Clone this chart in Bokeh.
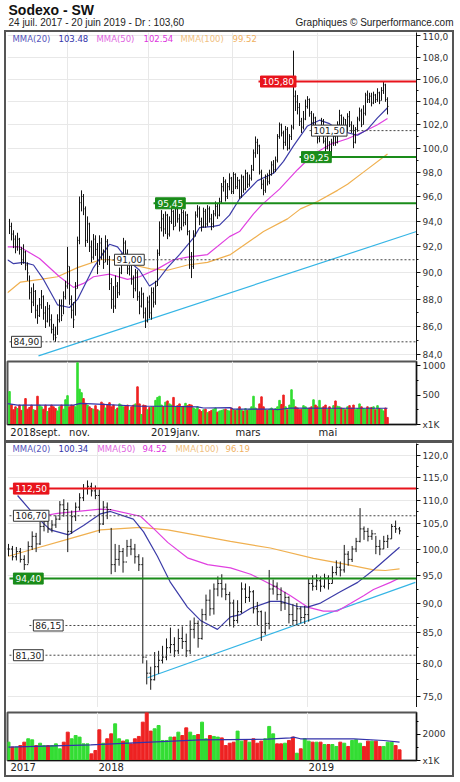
import numpy as np
from bokeh.plotting import figure
from bokeh.layouts import column
from bokeh.models import Range1d, FixedTicker, CustomJSTickFormatter, Label
from bokeh.embed import file_html
from bokeh.resources import INLINE

# ---------------- data: daily chart (top) ----------------
top_close = [
    93.6, 93.0, 92.6, 92.0, 92.6, 91.8, 91.0, 91.6, 90.6, 90.0,
    88.5, 87.8, 88.6, 87.2, 86.8, 87.6, 88.2, 87.0, 86.4, 87.3,
    86.5, 85.8, 85.4, 85.2, 86.5, 87.5, 86.8, 88.2, 89.0, 90.5,
    88.0, 87.2, 86.5, 88.8, 92.5, 95.5, 96.0, 95.0, 92.5, 93.8,
    92.0, 91.2, 92.6, 91.8, 90.5, 92.3, 91.5, 90.8, 92.4, 91.0,
    89.2, 88.0, 87.5, 89.0, 88.5, 90.0, 91.0, 92.3, 91.5, 90.3,
    90.8, 89.5, 88.8, 90.0, 88.2, 87.5, 88.4, 87.0, 86.4, 87.8,
    87.0, 88.5, 87.8, 89.0, 91.5, 93.5, 94.2, 93.4, 94.5, 93.0,
    94.0, 94.8, 93.6, 95.0, 94.2, 93.5, 94.7, 93.9, 94.5, 93.2,
    91.0, 90.5, 93.0, 94.5, 95.0, 94.0, 93.6, 94.8, 93.8, 95.0,
    94.2, 93.8, 94.6, 95.2, 94.5, 95.6, 96.8, 97.2, 96.0, 96.8,
    97.5, 96.4, 97.8, 96.8, 97.3, 96.0, 97.6, 96.6, 97.9, 97.0,
    97.5, 98.2, 99.6, 100.5, 100.2, 98.0, 97.0, 96.5, 97.5, 97.2,
    97.8, 98.6, 98.2, 99.0, 101.0, 102.0, 101.3, 100.5, 101.6, 100.0,
    101.0, 101.8, 104.5, 104.0, 103.5, 102.3, 101.8, 102.5, 103.6, 104.2,
    103.0, 102.2, 102.6, 101.5, 100.8, 101.5, 102.3, 100.6, 100.0, 101.0,
    99.6, 100.5, 101.0, 100.5, 102.0, 102.8, 101.8, 102.5, 101.5, 102.7,
    102.0, 101.5, 100.5, 101.6, 102.5, 103.2, 102.0, 103.0, 104.6, 104.2,
    104.5, 103.9, 104.6, 104.2, 104.8, 104.1, 105.0, 105.5, 104.2, 103.6,
]
top_high = [
    94.2, 93.9, 93.3, 92.9, 93.1, 92.7, 92.0, 92.2, 91.7, 90.8,
    89.8, 88.9, 89.2, 88.7, 87.6, 88.1, 88.7, 88.3, 87.5, 87.8,
    87.6, 86.9, 86.2, 86.0, 86.9, 88.0, 88.0, 88.6, 89.4, 92.0,
    90.5, 88.3, 87.8, 89.3, 92.8, 96.0, 96.5, 96.2, 95.2, 94.4,
    93.9, 92.5, 93.0, 92.9, 92.3, 92.9, 92.7, 91.8, 92.9, 92.6,
    91.3, 89.6, 89.0, 89.8, 89.3, 90.4, 91.5, 92.7, 92.5, 91.8,
    91.2, 91.0, 89.8, 90.3, 90.2, 88.6, 88.9, 88.5, 87.4, 88.2,
    88.3, 88.9, 88.9, 89.4, 91.8, 94.0, 94.9, 94.6, 94.8, 94.6,
    94.4, 95.2, 94.9, 95.3, 95.2, 94.6, 95.0, 94.9, 94.8, 94.6,
    93.3, 91.6, 93.3, 94.8, 95.3, 95.2, 94.3, 95.1, 95.0, 95.3,
    95.2, 94.6, 94.9, 95.6, 95.4, 95.9, 97.1, 97.6, 97.4, 97.1,
    97.9, 97.6, 98.0, 97.9, 97.6, 97.4, 97.8, 97.7, 98.2, 98.0,
    97.8, 98.6, 99.9, 101.0, 100.8, 100.3, 98.2, 97.4, 97.8, 97.9,
    98.2, 98.9, 99.0, 99.3, 101.2, 102.2, 102.1, 101.5, 101.9, 101.8,
    101.2, 102.0, 108.6, 105.0, 104.6, 103.9, 102.6, 103.2, 104.2, 104.5,
    104.3, 103.2, 103.0, 102.7, 101.7, 101.8, 102.6, 102.5, 100.9, 101.3,
    100.6, 100.8, 101.4, 101.2, 102.3, 103.3, 102.9, 102.7, 102.5, 103.0,
    103.2, 102.3, 102.0, 101.8, 102.7, 103.5, 103.4, 103.7, 104.8, 105.0,
    104.8, 104.8, 104.9, 104.7, 105.2, 104.9, 105.3, 105.8, 105.6, 104.4,
]
top_low = [
    93.0, 92.5, 91.9, 91.5, 91.7, 91.4, 90.6, 90.7, 90.2, 89.4,
    88.0, 87.0, 87.5, 86.6, 86.2, 86.7, 87.3, 86.5, 85.9, 86.3,
    86.0, 85.5, 85.0, 84.9, 85.4, 86.3, 86.4, 86.9, 88.0, 88.8,
    87.6, 86.6, 85.9, 86.8, 88.8, 92.2, 94.8, 94.5, 92.0, 92.3,
    91.6, 90.8, 91.0, 91.3, 89.9, 90.6, 91.0, 90.3, 90.8, 90.6,
    88.7, 87.3, 87.0, 87.3, 88.1, 88.3, 89.9, 90.9, 91.1, 89.9,
    89.8, 89.1, 88.1, 88.6, 87.9, 86.9, 87.4, 86.6, 85.9, 86.3,
    86.6, 86.5, 87.4, 87.6, 89.0, 91.3, 93.2, 92.8, 93.0, 92.6,
    92.8, 93.8, 93.3, 93.6, 93.9, 93.2, 93.3, 93.6, 93.7, 92.9,
    90.3, 89.6, 90.3, 92.8, 94.3, 93.7, 93.2, 93.5, 93.5, 93.6,
    93.9, 93.3, 93.5, 94.4, 94.2, 94.4, 95.4, 96.4, 95.6, 95.8,
    96.5, 96.2, 96.2, 96.6, 96.6, 95.8, 95.9, 96.3, 96.5, 96.7,
    96.8, 97.3, 98.1, 99.2, 99.5, 97.8, 96.6, 96.1, 96.3, 96.9,
    97.0, 97.7, 97.9, 98.0, 98.8, 100.8, 101.0, 99.9, 100.2, 99.8,
    99.9, 100.7, 101.6, 103.2, 102.9, 101.9, 101.3, 101.6, 102.4, 103.4,
    102.7, 101.9, 101.8, 101.2, 100.4, 100.5, 101.2, 100.4, 99.6, 99.9,
    99.25, 99.3, 100.2, 100.2, 100.4, 101.8, 101.6, 101.5, 101.3, 101.4,
    101.8, 101.3, 100.0, 100.4, 101.4, 102.3, 101.8, 102.0, 102.8, 103.9,
    103.9, 103.6, 103.8, 103.9, 104.0, 103.8, 104.1, 104.7, 104.0, 102.9,
]
top_volume = [  # thousands of shares
    560, 330, 250, 300, 270, 330, 240, 330, 440, 260,
    290, 330, 250, 240, 480, 330, 300, 260, 330, 220,
    280, 330, 300, 270, 230, 300, 330, 260, 420, 490,
    300, 330, 320, 300, 1050, 600, 540, 440, 360, 330,
    300, 270, 260, 320, 250, 230, 380, 350, 280, 330,
    370, 300, 330, 250, 280, 350, 330, 300, 310, 330,
    240, 300, 330, 350, 640, 350, 170, 330, 320, 250,
    290, 300, 300, 410, 460, 480, 330, 300, 380, 400,
    350, 330, 460, 300, 320, 350, 290, 310, 360, 320,
    340, 330, 280, 260, 300, 250, 220, 250, 260, 200,
    220, 240, 260, 280, 210, 230, 240, 250, 260, 240,
    230, 280, 250, 240, 260, 300, 250, 230, 270, 240,
    260, 300, 480, 280, 260, 350, 470, 300, 250, 240,
    260, 280, 250, 270, 300, 410, 340, 500, 300, 250,
    330, 590, 420, 300, 280, 250, 260, 320, 300, 270,
    280, 300, 420, 330, 300, 410, 280, 300, 330, 260,
    300, 260, 320, 400, 310, 300, 280, 270, 250, 300,
    320, 280, 330, 250, 270, 350, 300, 270, 260, 300,
    280, 290, 300, 250, 320, 270, 260, 230, 280, 120,
]
top_mma20_x = [-1, 2, 7, 12, 17, 24, 30, 34, 42, 50, 54, 59, 65, 70, 74, 79, 85, 92,
               95, 102, 105, 110, 115, 124, 132, 137, 142, 149, 155, 160, 165, 174,
               179, 184, 189]
top_mma20 = [91.0, 90.7, 90.8, 90.6, 89.5, 87.6, 87.4, 88.0, 90.4, 92.2, 92.0, 91.0,
             90.2, 89.0, 89.4, 90.4, 91.4, 92.7, 93.5, 93.6, 93.7, 94.5, 95.8, 97.3,
             97.9, 98.9, 100.2, 101.9, 102.4, 102.1, 101.5, 101.1, 101.6, 102.6, 103.48]
top_mma50_x = [-1, 5, 15, 25, 32, 37, 42, 50, 59, 65, 74, 82, 89, 99, 110, 115, 122,
               126, 135, 144, 152, 160, 169, 177, 184, 189]
top_mma50 = [92.0, 92.0, 91.1, 89.7, 88.9, 89.2, 89.7, 89.9, 89.5, 89.7, 90.3, 91.0,
             91.2, 91.4, 92.8, 93.2, 94.6, 95.3, 96.6, 98.2, 99.5, 100.3, 100.8, 101.4,
             102.0, 102.54]
top_mma100_x = [-1, 5.5, 15.5, 24, 34, 45.5, 50.5, 62, 70.5, 79, 89, 99, 110.5, 127,
                139, 145.5, 154, 164, 169, 177, 189]
top_mma100 = [88.5, 89.3, 89.5, 89.7, 90.4, 91.0, 91.0, 90.6, 90.3, 90.2, 90.6, 90.8,
              91.4, 93.2, 94.2, 95.0, 95.6, 96.5, 97.0, 98.0, 99.52]
top_trend_x = [14.5, 203.5]
top_trend_y = [83.9, 93.2]
top_volma_x = [-1, 4, 19, 32, 35.5, 44, 65.5, 79, 94, 97, 110.5, 112, 132, 134, 140.5, 162, 189]
top_volma = [355, 330, 330, 330, 360, 345, 310, 310, 300, 280, 285, 260, 260, 250, 280, 276, 276]
top_levels = [105.80, 101.50, 99.25, 95.45, 91.00, 84.90]
top_level_kind = ["res", "dot", "sup", "sup", "dot", "dot"]
top_level_start = [124.5, 150, 145, 72, 51.5, 0]
top_month_grid = [29, 69.5, 111.5, 154]                 # month starts (grid lines)
top_month_lab = ["2018sept.", "nov.", "2019janv.", "mars", "mai"]
top_month_lab_pos = [13, 35, 83, 119.25, 159.2]         # label centres
top_price_ticks = [84, 86, 88, 90, 92, 94, 96, 98, 100, 102, 104, 106, 108, 110]
top_price_minor = [85, 87, 89, 91, 93, 95, 97, 99, 101, 103, 105, 107, 109]
top_vol_ticks = [0, 500, 1000]
top_vol_minor = [250, 750]

# ---------------- data: weekly chart (bottom) ----------------
wk_close = [
    100.0, 98.5, 99.5, 98.0, 97.0, 100.5, 102.5, 101.0, 104.5, 105.5,
    104.0, 104.8, 106.0, 109.0, 108.0, 103.5, 106.5, 108.5, 110.5, 112.5,
    113.0, 112.0, 111.0, 105.0, 108.5, 108.0, 97.0, 98.0, 99.5, 97.5,
    100.5, 100.0, 98.5, 97.0, 81.0, 78.5, 77.5, 79.5, 80.5, 81.0,
    82.5, 83.0, 82.0, 84.0, 83.5, 82.0, 85.5, 86.5, 84.0, 88.0,
    90.5, 89.0, 92.5, 93.5, 92.5, 91.5, 90.0, 87.0, 88.5, 92.5,
    91.0, 92.0, 89.0, 88.5, 85.0, 86.5, 92.5, 93.0, 91.5, 90.0,
    91.0, 88.0, 87.0, 89.0, 87.5, 88.0, 93.5, 93.0, 94.0, 93.0,
    94.5, 93.5, 95.5, 96.5, 96.0, 99.0, 98.0, 100.0, 101.5, 104.0,
    103.5, 102.5, 103.0, 100.5, 100.0, 101.5, 102.0, 104.5, 104.0, 103.6,
]
wk_high = [
    101.0, 100.6, 100.4, 100.2, 98.8, 101.5, 103.5, 103.2, 105.5, 106.5,
    106.0, 105.8, 106.8, 109.8, 110.2, 109.5, 107.8, 109.5, 111.5, 113.5,
    114.3, 113.8, 113.2, 112.3, 109.8, 109.5, 104.2, 101.0, 100.8, 100.2,
    101.8, 102.0, 101.0, 99.0, 98.4, 80.5, 79.5, 81.8, 82.0, 82.8,
    84.0, 85.8, 84.2, 85.6, 86.0, 84.8, 87.0, 87.5, 87.0, 89.0,
    91.5, 92.4, 93.5, 94.8, 95.2, 93.5, 92.0, 90.6, 90.5, 93.7,
    93.5, 93.0, 92.3, 90.2, 88.7, 88.5, 96.0, 94.2, 93.7, 92.8,
    92.0, 91.2, 89.8, 90.0, 89.4, 89.5, 94.5, 95.0, 95.2, 94.8,
    95.3, 95.0, 96.7, 97.8, 97.6, 100.8, 99.6, 100.6, 102.2, 108.3,
    104.5, 104.2, 103.8, 102.6, 101.8, 102.6, 102.8, 105.0, 105.7, 104.4,
]
wk_low = [
    98.6, 97.8, 97.8, 97.4, 96.0, 97.2, 99.8, 99.4, 100.8, 103.5,
    103.2, 103.3, 104.2, 105.8, 106.5, 99.4, 103.0, 105.6, 107.8, 109.8,
    111.2, 110.8, 110.2, 103.2, 104.8, 106.0, 95.2, 95.6, 96.8, 95.5,
    98.5, 98.8, 97.2, 95.8, 80.0, 76.8, 76.0, 77.4, 78.4, 80.0,
    80.5, 81.6, 81.0, 81.5, 82.3, 81.0, 81.5, 84.0, 82.5, 83.8,
    87.0, 87.8, 88.0, 91.2, 91.0, 90.5, 86.0, 85.8, 86.5, 88.2,
    90.0, 90.2, 88.2, 86.2, 83.6, 84.6, 85.5, 91.5, 90.5, 88.6,
    88.8, 86.5, 86.2, 86.2, 86.5, 86.4, 86.8, 92.2, 92.3, 92.0,
    92.6, 92.4, 93.5, 95.0, 94.8, 95.5, 96.8, 97.5, 99.4, 101.3,
    101.8, 101.5, 101.8, 99.0, 98.8, 100.0, 100.2, 102.0, 103.2, 102.9,
]
wk_volume = [  # thousands of shares
    1410, 1030, 1030, 1150, 1410, 1670, 1590, 1150, 1330, 1150,
    1150, 1150, 1280, 900, 1410, 2180, 1670, 1920, 1800, 1280,
    1280, 510, 770, 2360, 1330, 1670, 2050, 2820, 1670, 1490,
    1590, 1280, 1670, 1850, 2950, 3700, 2260, 2440, 2690, 1540,
    1540, 1800, 1800, 2180, 1920, 2510, 2180, 1920, 2000, 2950,
    1670, 1920, 1850, 1800, 1740, 1150, 1330, 1410, 2260, 1490,
    1590, 1410, 1670, 1330, 1490, 1670, 2620, 2050, 1280, 1280,
    1330, 1540, 1800, 560, 900, 1670, 1490, 1410, 1410, 1410,
    1230, 1230, 1230, 1080, 1410, 1330, 1080, 1540, 1590, 1330,
    1080, 1490, 1490, 1490, 1080, 1080, 1410, 1410, 1150, 820,
]
wk_mma20_x = [2.3, 6.3, 10.6, 15.2, 19.0, 23.3, 25.8, 31.6, 34.2, 37.7, 41.0, 45.3, 48.6,
              52.9, 56.2, 58.7, 61.3, 66.3, 68.9, 73.2, 75.7, 79.0, 84.0, 88.4, 92.4, 99]
wk_mma20 = [111.0, 107.1, 103.8, 102.8, 104.7, 107.1, 107.6, 106.0, 103.4, 98.6, 93.7,
            89.3, 87.0, 85.5, 87.6, 88.0, 89.1, 90.3, 90.3, 89.4, 89.3, 90.0, 92.0, 93.7,
            96.0, 100.34]
wk_mma50_x = [8.1, 12.4, 17.5, 23.3, 25.8, 33.4, 36.7, 40.3, 45.3, 50.4, 56.2, 61.3, 67.1,
              71.4, 75.7, 79.7, 83.3, 89.9, 92.4, 96.7, 99]
wk_mma50 = [106.6, 107.2, 107.6, 108.1, 108.0, 106.6, 104.1, 101.3, 98.3, 97.0, 96.4, 95.2,
            93.1, 91.3, 89.3, 88.6, 88.6, 91.3, 92.4, 93.7, 94.52]
wk_mma100_x = [0, 6.3, 14.9, 23.3, 33.4, 40.3, 48.6, 56.2, 66.3, 77.2, 85.8, 92.4, 95.4, 99]
wk_mma100 = [98.6, 100.0, 101.9, 103.8, 104.3, 103.8, 102.6, 101.5, 100.2, 98.2, 97.0,
             96.0, 95.9, 96.19]
wk_trend_x = [35.2, 103.0]
wk_trend_y = [77.8, 93.7]
wk_volma_x = [0, 20.8, 35.9, 48.6, 65.6, 71.4, 72.2, 73.9, 87.4, 95, 99]
wk_volma = [1025, 1200, 1410, 1590, 1640, 1740, 1800, 1670, 1670, 1540, 1410]
wk_levels = [112.50, 106.70, 94.40, 86.15, 81.30]
wk_level_kind = ["res", "dot", "sup", "dot", "dot"]
wk_level_start = [0.25, 0.25, 0.25, 5.3, 0.25]
wk_year_grid = [22.5, 75.7]                 # year starts (grid lines)
wk_year_lab = ["2017", "2018", "2019"]
wk_year_lab_pos = [3.72, 26.0, 79.2]        # label centres
wk_price_ticks = [75, 80, 85, 90, 95, 100, 105, 110, 115, 120]
wk_price_minor = [72.5, 77.5, 82.5, 87.5, 92.5, 97.5, 102.5, 107.5, 112.5, 117.5, 122.5]
wk_vol_ticks = [0, 2000]
wk_vol_minor = [1000, 3000]

title = "Sodexo - SW"
subtitle = "24 juil. 2017 - 20 juin 2019 - Dr : 103,60"
credit = "Graphiques \u00a9 Surperformance.com"
vol_unit = "x1K"

# ---------------- styles ----------------
C20, C50, C100 = "#3c3ca8", "#e040e0", "#f0b050"
CYAN = "#35b5e5"
RED, GREEN, DOT = "#e8141c", "#1a8c1a", "#444444"
VUP, VDN = "#33dd33", "#ee2222"
FONT = "DejaVu Sans"
GRID = "#e8e8e8"

price_fmt = CustomJSTickFormatter(code="return tick.toFixed(1).replace('.', ',');")


def style_price_axis(p, ticks, minor):
    ax = p.yaxis[0]
    ax.ticker = FixedTicker(ticks=ticks, minor_ticks=minor)
    ax.formatter = price_fmt
    ax.major_label_text_font = FONT
    ax.major_label_text_font_size = "9px"
    ax.major_label_text_color = "#333333"
    ax.major_label_standoff = 2
    ax.major_tick_out = 4
    ax.major_tick_in = 0
    ax.minor_tick_out = 2
    ax.minor_tick_in = 0
    ax.axis_line_color = "#111111"
    ax.major_tick_line_color = "#111111"
    ax.minor_tick_line_color = "#111111"
    p.ygrid.grid_line_color = GRID


def style_vol_axis(p, ticks, minor):
    ax = p.yaxis[0]
    ax.ticker = FixedTicker(ticks=ticks, minor_ticks=minor)
    ax.formatter = CustomJSTickFormatter(
        args=dict(unit=vol_unit),
        code="return tick == 0 ? unit : tick.toFixed(0);")
    ax.major_label_text_font = FONT
    ax.major_label_text_font_size = "9px"
    ax.major_label_text_color = "#333333"
    ax.major_label_standoff = 2
    ax.major_tick_out = 4
    ax.major_tick_in = 0
    ax.minor_tick_out = 2
    ax.minor_tick_in = 0
    ax.axis_line_color = "#111111"
    p.ygrid.grid_line_color = None


def date_axis(p, grid_pos, lab_pos, lab):
    ax = p.xaxis[0]
    ax.ticker = FixedTicker(ticks=lab_pos, minor_ticks=[])
    ax.formatter = CustomJSTickFormatter(
        args=dict(pos=lab_pos, lab=lab),
        code="const i = pos.indexOf(tick); return i >= 0 ? lab[i] : '';")
    ax.major_label_text_font = FONT
    ax.major_label_text_font_size = "10px"
    ax.major_label_text_color = "#222222"
    ax.major_label_standoff = 2
    ax.major_tick_out = 0
    ax.major_tick_in = 0
    ax.axis_line_color = "#111111"
    p.xgrid.ticker = FixedTicker(ticks=grid_pos, minor_ticks=[])
    p.xgrid.grid_line_color = GRID


def add_levels(p, levels, kinds, starts):
    for lv, kd, st in zip(levels, kinds, starts):
        if kd == "res":
            col, dash, fill, tcol, bcol = RED, "solid", RED, "white", RED
        elif kd == "sup":
            col, dash, fill, tcol, bcol = GREEN, "solid", GREEN, "white", GREEN
        else:
            col, dash, fill, tcol, bcol = DOT, "2 2", "white", "#222222", "#333333"
        p.ray(x=[st], y=[lv], length=0, angle=0, line_color=col,
              line_width=2 if kd != "dot" else 1, line_dash=dash)
        p.add_layout(Label(x=st + 1, y=lv, x_units="data", y_units="data",
                           text=f"{lv:.2f}".replace(".", ","), text_font=FONT,
                           text_font_size="9px", text_color=tcol, text_baseline="middle",
                           text_align="left", background_fill_color=fill,
                           border_line_color=bcol, border_line_width=1, padding=2))


def add_legend(p, ytop, items):
    for xs, txt, col in items:
        p.add_layout(Label(x=xs, y=ytop, x_units="screen", y_units="screen", text=txt,
                           text_font=FONT, text_font_size="8.5px", text_color=col,
                           text_baseline="middle", text_align="left"))


def bars(p, xs, hi, lo, cl, op=None, tick=0.5):
    p.segment(x0=xs, y0=lo, x1=xs, y1=hi, line_color="#151515", line_width=1)
    p.segment(x0=xs, y0=cl, x1=[x + tick for x in xs], y1=cl, line_color="#151515", line_width=1)
    if op is not None:
        p.segment(x0=[x - tick for x in xs], y0=op, x1=xs, y1=op, line_color="#151515",
                  line_width=1)


def vol_colors(cl):
    out = [VUP]
    for a, b in zip(cl[:-1], cl[1:]):
        out.append(VUP if b >= a else VDN)
    return out


# ---------------- header ----------------
hdr = figure(width=460, height=30, x_range=Range1d(0, 460), y_range=Range1d(0, 30),
             x_axis_location=None, y_axis_location=None, toolbar_location=None,
             output_backend="svg", min_border=0, outline_line_color=None)
hdr.xgrid.visible = False
hdr.ygrid.visible = False
hdr.add_layout(Label(x=8, y=13, x_units="screen", y_units="screen", text=title,
                     text_font="Liberation Sans", text_font_size="14px",
                     text_font_style="bold", text_color="#111111"))
hdr.add_layout(Label(x=8, y=3, x_units="screen", y_units="screen", text=subtitle,
                     text_font="Liberation Sans", text_font_size="10px", text_color="#222222"))
hdr.add_layout(Label(x=453, y=3, x_units="screen", y_units="screen", text=credit,
                     text_font="Liberation Sans", text_font_size="10px", text_color="#222222",
                     text_align="right"))

# ---------------- top (daily) ----------------
xr1 = Range1d(-1, 203.5)
idx1 = list(range(len(top_close)))
p1 = figure(width=446, height=328, x_range=xr1, y_range=Range1d(83.57, 110.279),
            y_axis_type="log", y_axis_location="right", x_axis_location=None,
            toolbar_location=None, output_backend="svg", min_border_left=1,
            min_border_right=36, min_border_top=0, min_border_bottom=0,
            outline_line_color=None)
style_price_axis(p1, top_price_ticks, top_price_minor)
p1.xgrid.ticker = FixedTicker(ticks=top_month_grid, minor_ticks=[])
p1.xgrid.grid_line_color = GRID
p1.line(top_trend_x, top_trend_y, line_color=CYAN, line_width=1.2)
p1.line(top_mma100_x, top_mma100, line_color=C100, line_width=1.2)
p1.line(top_mma50_x, top_mma50, line_color=C50, line_width=1.2)
p1.line(top_mma20_x, top_mma20, line_color=C20, line_width=1.2)
bars(p1, idx1, top_high, top_low, top_close, tick=0.5)
add_levels(p1, top_levels, top_level_kind, top_level_start)
add_legend(p1, 322, [
    (5, "MMA(20)", "#5555bb"), (51, f"{top_mma20[-1]:.2f}", "#3333aa"),
    (89, "MMA(50)", "#e066e0"), (136, f"{top_mma50[-1]:.2f}", "#dd33dd"),
    (173, "MMA(100)", "#f0c080"), (225, f"{top_mma100[-1]:.2f}", "#f0b060")])

v1 = figure(width=446, height=80, x_range=xr1, y_range=Range1d(0, 1070),
            y_axis_location="right", toolbar_location=None, output_backend="svg",
            min_border_left=1, min_border_right=36, min_border_top=1, min_border_bottom=15,
            outline_line_color="#555555", outline_line_width=2)
style_vol_axis(v1, top_vol_ticks, top_vol_minor)
date_axis(v1, top_month_grid, top_month_lab_pos, top_month_lab)
v1.vbar(x=idx1, top=top_volume, width=0.75, color=vol_colors(top_close))
v1.line(top_volma_x, top_volma, line_color="#3333aa", line_width=1.2)

# ---------------- bottom (weekly) ----------------
xr2 = Range1d(-0.25, 103.29)
idx2 = list(range(len(wk_close)))
wk_open = [wk_close[0]] + wk_close[:-1]
p2 = figure(width=446, height=264, x_range=xr2, y_range=Range1d(73.42, 122.84),
            y_axis_type="log", y_axis_location="right", x_axis_location=None,
            toolbar_location=None, output_backend="svg", min_border_left=1,
            min_border_right=36, min_border_top=0, min_border_bottom=0,
            outline_line_color=None)
style_price_axis(p2, wk_price_ticks, wk_price_minor)
p2.xgrid.ticker = FixedTicker(ticks=wk_year_grid, minor_ticks=[])
p2.xgrid.grid_line_color = GRID
p2.line(wk_trend_x, wk_trend_y, line_color=CYAN, line_width=1.2)
p2.line(wk_mma100_x, wk_mma100, line_color=C100, line_width=1.2)
p2.line(wk_mma50_x, wk_mma50, line_color=C50, line_width=1.2)
p2.line(wk_mma20_x, wk_mma20, line_color=C20, line_width=1.2)
bars(p2, idx2, wk_high, wk_low, wk_close, op=wk_open, tick=0.38)
add_levels(p2, wk_levels, wk_level_kind, wk_level_start)
add_legend(p2, 259, [
    (5, "MMA(20)", "#5555bb"), (51, f"{wk_mma20[-1]:.2f}", "#3333aa"),
    (90, "MMA(50)", "#e066e0"), (135, f"{wk_mma50[-1]:.2f}", "#dd33dd"),
    (168, "MMA(100)", "#f0c080"), (218, f"{wk_mma100[-1]:.2f}", "#f0b060")])

v2 = figure(width=446, height=68, x_range=xr2, y_range=Range1d(0, 3692),
            y_axis_location="right", toolbar_location=None, output_backend="svg",
            min_border_left=1, min_border_right=36, min_border_top=5, min_border_bottom=15,
            outline_line_color="#555555", outline_line_width=2)
style_vol_axis(v2, wk_vol_ticks, wk_vol_minor)
date_axis(v2, wk_year_grid, wk_year_lab_pos, wk_year_lab)
v2.vbar(x=idx2, top=wk_volume, width=0.75, color=vol_colors(wk_close))
v2.line(wk_volma_x, wk_volma, line_color="#3333aa", line_width=1.2)

top_panel = column(p1, v1, spacing=0,
                   styles={"border": "2px solid #555555", "margin-left": "4px"})
bottom_panel = column(p2, v2, spacing=0,
                      styles={"border": "2px solid #555555", "border-top-width": "1px",
                              "margin-left": "4px"})
layout = column(hdr, top_panel, bottom_panel, spacing=0)

open("out.html", "w").write(file_html(layout, INLINE))
